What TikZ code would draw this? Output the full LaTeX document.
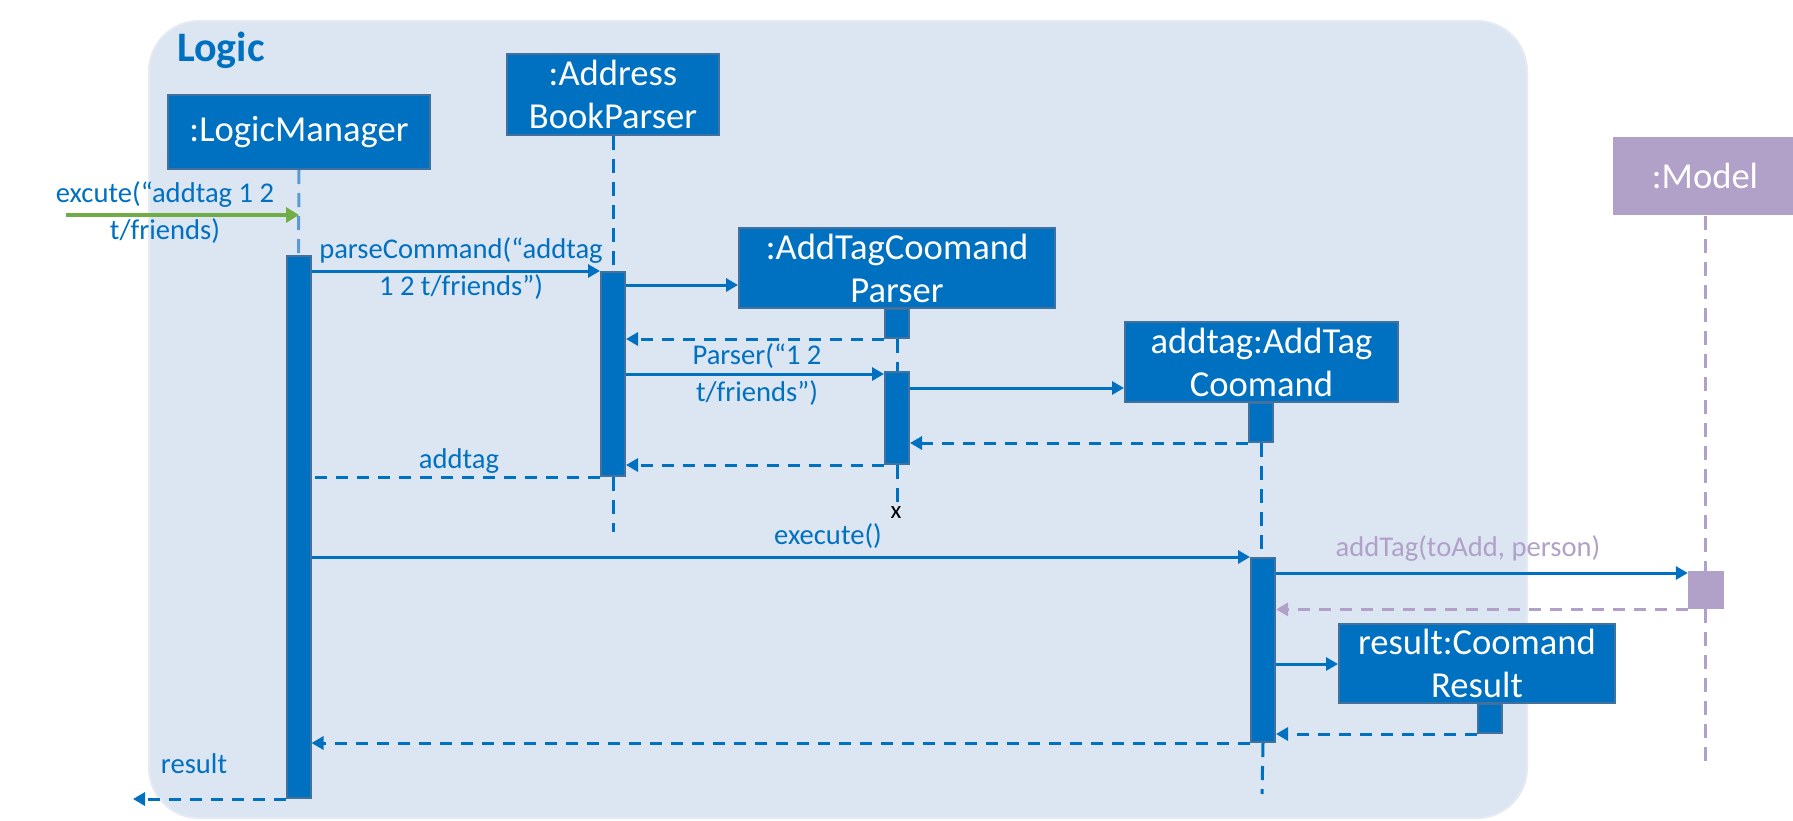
\documentclass[tikz,border=0pt]{standalone}
\usepackage{fontspec}
\setmainfont{Carlito}
\usetikzlibrary{arrows.meta,calc}
\definecolor{mblue}{HTML}{0070C0}
\definecolor{bord}{HTML}{41719C}
\definecolor{lblue}{HTML}{5B9BD5}
\definecolor{framefill}{HTML}{DCE6F2}
\definecolor{frameedge}{HTML}{E6EBF2}
\definecolor{mgreen}{HTML}{70AD47}
\definecolor{mpurple}{HTML}{B1A0C7}
\begin{document}
\begin{tikzpicture}[x=1pt,y=-1pt,
  obj/.style={draw=bord, line width=2pt, fill=mblue, text=white, font=\fontsize{36.6}{43}\selectfont, align=center, inner sep=0pt},
  act/.style={draw=bord, line width=2pt, fill=mblue, inner sep=0pt, minimum width=24pt},
  life/.style={draw=mblue, line width=3pt, dash pattern=on 14pt off 9pt},
  msg/.style={draw=mblue, line width=3pt, -{Triangle[length=12pt,width=13pt]}},
  ret/.style={msg, dash pattern=on 12pt off 9pt},
  lbl/.style={text=mblue, font=\fontsize{28.6}{37}\selectfont, align=center, inner sep=0pt},
]
\useasboundingbox (0,0) rectangle (1793,820);
% frame
\path[fill=framefill, draw=frameedge, line width=2pt, rounded corners=50pt] (149,21) rectangle (1527,818);
\node[anchor=base west, font=\fontsize{42}{50}\selectfont\bfseries, text=mblue, inner sep=0pt] (logic) at (177,61) {Logic};

% objects
\node[obj, minimum width=262pt, minimum height=74pt] (lm) at (299,132) {:LogicManager};
\node[obj, minimum width=212pt, minimum height=81pt] (abp) at (613,94.5) {:Address\\BookParser};
\node[obj, minimum width=316pt, minimum height=80pt] (atcp) at (897,268) {:AddTagCoomand\\Parser};
\node[obj, minimum width=273pt, minimum height=80pt] (atc) at (1261.5,362) {addtag:AddTag\\Coomand};
\node[obj, minimum width=276pt, minimum height=79pt] (res) at (1477,663.5) {result:Coomand\\Result};
\node[obj, draw=none, fill=mpurple, minimum width=184pt, minimum height=78pt] (model) at (1705,176) {:Model};

% activations
\node[act, minimum height=542pt, anchor=north] (lmact) at (298.5,255) {};
\node[act, minimum height=204pt, anchor=north] (abpact) at (613,271) {};
\node[act, minimum height=29pt, anchor=north] (atcpa) at (897,308) {};
\node[act, minimum height=92pt, anchor=north] (atcpb) at (897,371) {};
\node[act, minimum height=39pt, anchor=north] (atca) at (1261,402) {};
\node[act, minimum height=184pt, anchor=north] (atcb) at (1263,557) {};
\node[act, minimum height=29pt, anchor=north] (resa) at (1490,703) {};
\node[fill=mpurple, inner sep=0pt, minimum width=36pt, minimum height=38pt, anchor=north] (modela) at (1706,571) {};

% lifelines
\draw[life, draw=lblue] (lm.south) -- (lmact.north);
\draw[life] (abp.south) -- (abpact.north);
\coordinate (abpend) at (613,532);
\draw[life] (abpact.south) -- (abpend);
\draw[life] (atcpa.south) -- (atcpb.north);
\coordinate (atcpend) at (897,503);
\draw[life] (atcpb.south) -- (atcpend);
\node[text=black, font=\fontsize{25}{28}\selectfont, inner sep=0pt] (xmark) at (896,513) {x};
\draw[life] (atca.south) -- (atca.south |- atcb.north);
\coordinate (atcend) at (1262,794);
\draw[life] (atcb.south) -- (atcend);
\coordinate (modelend) at (1705,763);
\draw[life, draw=mpurple] (model.south) -- (modela.north -| model.south);
\draw[life, draw=mpurple] (modela.south -| model.south) -- (modelend);

% found message
\coordinate (start) at (66,215);
\draw[draw=mgreen, line width=4pt, -{Triangle[length=13pt,width=15pt]}] (start) -- (start -| lm.south);
\node[lbl] (l0) at (165,213) {excute(“addtag 1 2\\t/friends)};

% messages
\draw[msg] (lmact.east |- abpact.north) -- (abpact.north west);
\node[lbl] (l1) at (461,269) {parseCommand(“addtag\\1 2 t/friends”)};

\draw[msg] (abpact.east |- 0,285) -- (atcp.west |- 0,285);
\draw[ret] (atcpa.south west) -- (abpact.east |- atcpa.south west);

\draw[msg] (abpact.east |- 0,374) -- (atcpb.west |- 0,374);
\node[lbl] (l2) at (757,375) {Parser(“1 2\\t/friends”)};

\draw[msg] (atcpb.east |- 0,388) -- (atc.west |- 0,388);
\draw[ret] (atca.south west) -- (atcpb.east |- atca.south west);
\draw[ret] (atcpb.south west) -- (abpact.east |- atcpb.south west);

\draw[draw=mblue, line width=3pt, dash pattern=on 12pt off 9pt] (abpact.south west) -- (lmact.east |- abpact.south west);
\node[lbl, anchor=base] (l3) at (459,468) {addtag};

\draw[msg] (lmact.east |- atcb.north) -- (atcb.north west);
\node[lbl, anchor=base] (l4) at (828,544) {execute()};

\draw[msg] (atcb.east |- 0,573) -- (modela.west |- 0,573);
\node[lbl, anchor=base, text=mpurple] (l5) at (1468,556) {addTag(toAdd, person)};
\draw[ret, draw=mpurple] (modela.south west) -- (atcb.east |- modela.south west);

\draw[msg] (atcb.east |- 0,664) -- (res.west |- 0,664);
\draw[ret] (resa.south west) -- (atcb.east |- resa.south west);

\draw[ret] (atcb.south west) -- (lmact.east |- atcb.south west);

\coordinate (endres) at (133,796);
\draw[ret] (lmact.south west) -- (endres |- lmact.south west);
\node[lbl, anchor=base] (l6) at (194,773) {result};
\end{tikzpicture}
\end{document}
